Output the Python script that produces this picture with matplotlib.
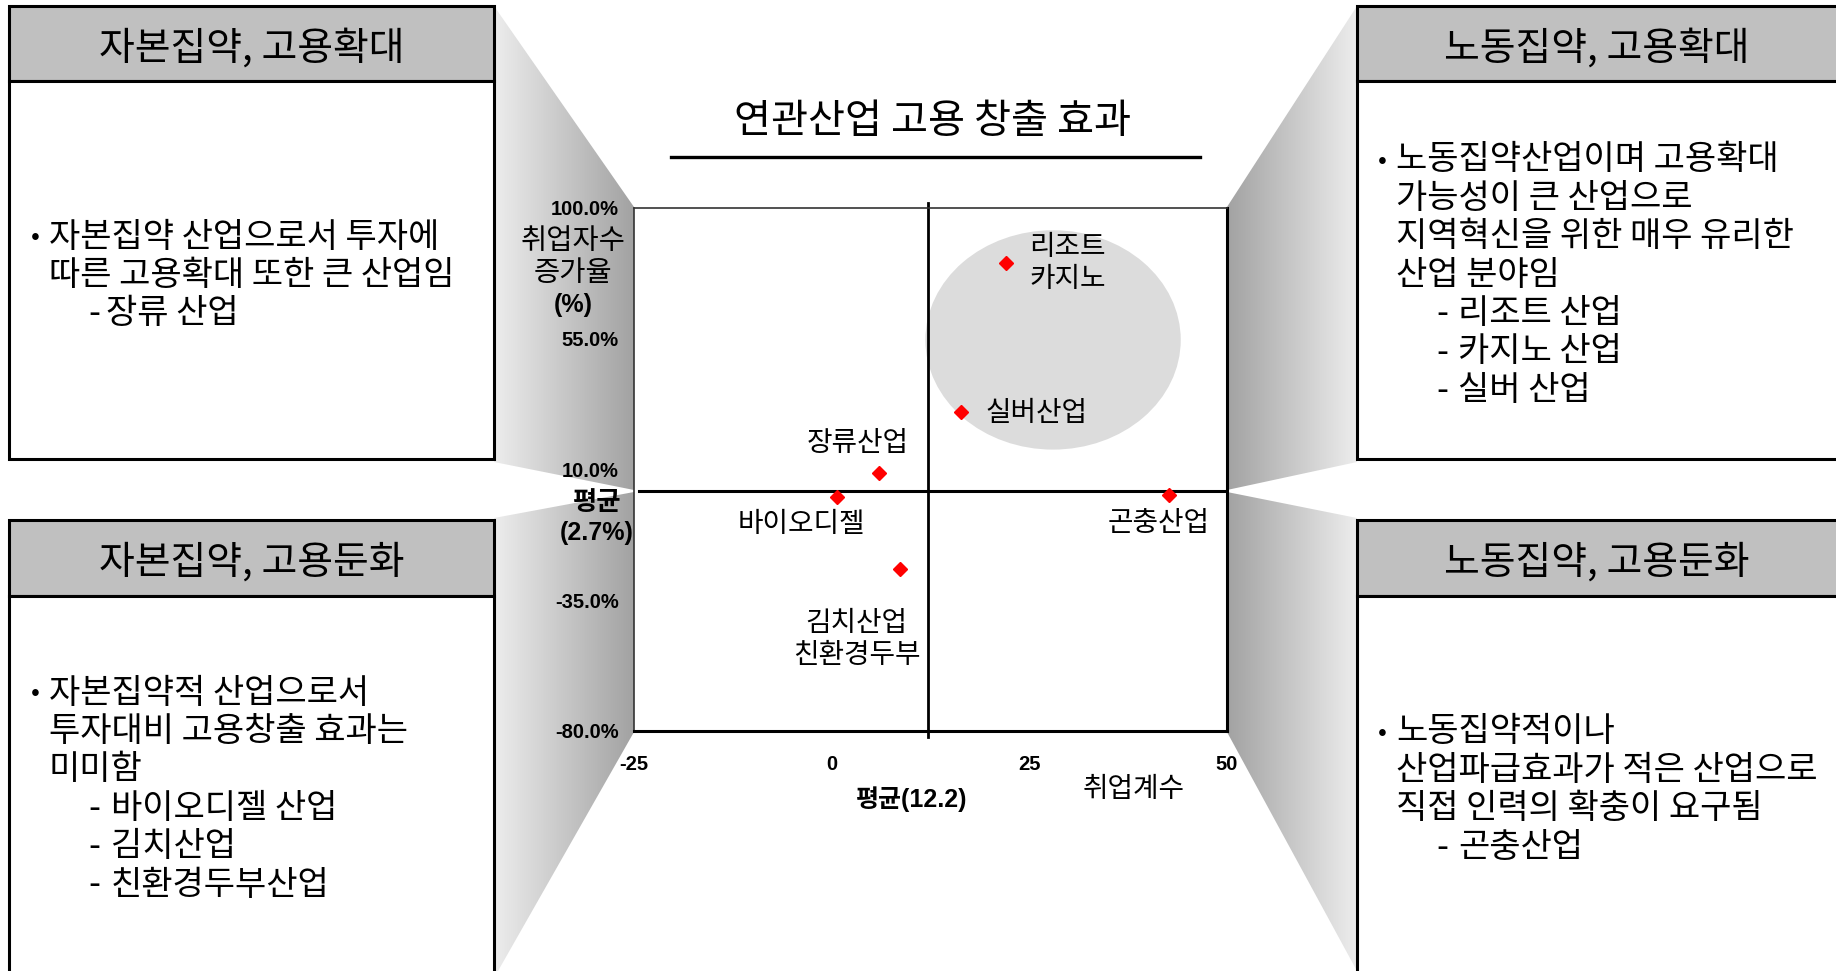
import numpy as np
import matplotlib
matplotlib.use('Agg')
import matplotlib.pyplot as plt
from matplotlib.patches import Rectangle, Polygon, Ellipse
from matplotlib.colors import LinearSegmentedColormap
from matplotlib.ticker import FuncFormatter

plt.rcParams['font.family'] = ['Noto Sans CJK KR', 'DejaVu Sans']
plt.rcParams['axes.unicode_minus'] = False
NUM = ['Liberation Sans', 'Noto Sans CJK KR']

# ---- data ----
industries = ['리조트\n카지노', '실버산업', '장류산업', '바이오디젤', '곤충산업', '김치산업\n친환경두부']
emp_coef = [22.0, 16.4, 6.0, 0.7, 42.7, 8.7]          # 취업계수
emp_growth = [81.1, 29.8, 8.8, 0.7, 1.2, -24.2]       # 취업자수 증가율(%)
mean_coef = 12.2
mean_growth = 2.7
x_ticks = [-25, 0, 25, 50]
y_ticks = [-80, -35, 10, 55, 100]

# label placement (offset in pixels, alignment)
label_offsets = [(24, 0), (24, -1), (-21, 30), (-36, -27), (-11, -28), (-44, -70)]
label_ha = ['left', 'left', 'center', 'center', 'center', 'center']

# highlight ellipse (center, width, height) in data units
hl_center = (28.0, 54.6)
hl_size = (32.3, 75.5)

box_titles = ['자본집약, 고용확대', '노동집약, 고용확대', '자본집약, 고용둔화', '노동집약, 고용둔화']
box_texts = [
    ['• 자본집약 산업으로서 투자에', '따른 고용확대 또한 큰 산업임', '- 장류 산업'],
    ['• 노동집약산업이며 고용확대', '가능성이 큰 산업으로', '지역혁신을 위한 매우 유리한', '산업 분야임',
     '- 리조트 산업', '- 카지노 산업', '- 실버 산업'],
    ['• 자본집약적 산업으로서', '투자대비 고용창출 효과는', '미미함',
     '- 바이오디젤 산업', '- 김치산업', '- 친환경두부산업'],
    ['• 노동집약적이나', '산업파급효과가 적은 산업으로', '직접 인력의 확충이 요구됨', '- 곤충산업'],
]

W, H = 1836, 971
fig = plt.figure(figsize=(W / 100, H / 100), dpi=100)
bg = fig.add_axes([0, 0, 1, 1])
bg.set_axis_off()

# ---- gradient funnels ----
cmap = LinearSegmentedColormap.from_list('fun', ['#ededed', '#a2a2a2'])

def funnel(verts, dark_right=True):
    poly = Polygon(verts, closed=True, facecolor='none', edgecolor='none')
    bg.add_patch(poly)
    xs = [v[0] for v in verts]
    ys = [v[1] for v in verts]
    g = np.linspace(0, 1, 256).reshape(1, -1)
    if not dark_right:
        g = g[:, ::-1]
    im = bg.imshow(g, cmap=cmap, extent=(min(xs), max(xs), max(ys), min(ys)),
                   aspect='auto', interpolation='bilinear', zorder=1)
    im.set_clip_path(poly)

funnel([(494, 6), (634, 207), (634, 490), (494, 462)])
funnel([(494, 518), (634, 492), (634, 732), (498, 971), (494, 971)])
funnel([(1227, 207), (1357, 6), (1357, 462), (1227, 490)], dark_right=False)
funnel([(1227, 492), (1357, 518), (1357, 971), (1227, 732)], dark_right=False)

# ---- quadrant boxes ----
box_geo = [  # x0, y0, x1, y1, header bottom
    (9, 6, 494, 459, 81),
    (1357, 6, 1845, 459, 81),
    (9, 520, 494, 990, 596),
    (1357, 520, 1845, 990, 596),
]
# bullet x, text x, dash x, sub-item text x
text_x = [(35, 49, 88, 106), (1382, 1396, 1436, 1458),
          (35, 49, 88, 111), (1382, 1396, 1436, 1458)]
text_y0 = [237, 160, 693, 732]
step = 38.4

for i in range(4):
    x0, y0, x1, y1, hb = box_geo[i]
    bg.add_patch(Rectangle((x0, y0), x1 - x0, hb - y0, facecolor='#c0c0c0',
                           edgecolor='black', lw=2.2, zorder=3))
    bg.add_patch(Rectangle((x0, hb), x1 - x0, y1 - hb, facecolor='white',
                           edgecolor='black', lw=2.2, zorder=3))
    cx = (x0 + min(x1, W)) / 2
    bg.text(cx, (y0 + hb) / 2 + 5, box_titles[i], ha='center', va='center',
            fontsize=28, zorder=4)
    bx, tx, dx, sx = text_x[i]
    for j, line in enumerate(box_texts[i]):
        y = text_y0[i] + j * step
        if line.startswith('•'):
            bg.text(bx, y, '•', ha='center', va='center', fontsize=19, zorder=4)
            bg.text(tx, y, line[2:], ha='left', va='center', fontsize=24.5, zorder=4)
        elif line.startswith('-'):
            bg.text(dx, y, '-', ha='left', va='center', fontsize=24.5, zorder=4)
            bg.text(sx, y, line[2:], ha='left', va='center', fontsize=24.5, zorder=4)
        else:
            bg.text(tx, y, line, ha='left', va='center', fontsize=24.5, zorder=4)

# ---- title ----
bg.text(933, 121, '연관산업 고용 창출 효과', ha='center', va='center', fontsize=29, zorder=4)
bg.plot([671, 1200], [157, 157], color='black', lw=2.4, zorder=4)

# ---- axis annotations ----
bg.text(573, 257, '취업자수\n증가율', ha='center', va='center', fontsize=20.5,
        linespacing=1.05, zorder=4)
bg.text(573, 305, '(%)', ha='center', va='center', fontsize=18, family=NUM,
        weight='bold', zorder=4)
bg.text(597, 503, '평균', ha='center', va='center', fontsize=19, weight='bold', zorder=4)
bg.text(597, 533, '(2.7%)', ha='center', va='center', fontsize=18, family=NUM,
        weight='bold', zorder=4)
bg.text(912, 799, '평균(12.2)', ha='center', va='center', fontsize=18, family=NUM,
        weight='bold', zorder=4)
bg.text(1134, 789, '취업계수', ha='center', va='center', fontsize=20, zorder=4)

bg.set_xlim(0, W)
bg.set_ylim(H, 0)

# ---- scatter plot ----
ax = fig.add_axes([634 / W, (H - 731) / H, 593 / W, 523 / H])
ax.set_facecolor('white')
ax.set_zorder(5)
ax.set_xlim(-25, 50)
ax.set_ylim(-80, 100)
ax.set_xticks(x_ticks)
ax.set_yticks(y_ticks)
ax.yaxis.set_major_formatter(FuncFormatter(lambda v, p: f'{v:.1f}%'))
ax.tick_params(length=0)
ax.tick_params(axis='y', pad=11)
ax.tick_params(axis='x', pad=17)
for lab in ax.get_xticklabels() + ax.get_yticklabels():
    lab.set_fontfamily(NUM)
    lab.set_fontweight('bold')
    lab.set_fontsize(14.5)
for s in ['left', 'top']:
    ax.spines[s].set_linewidth(1.2)
    ax.spines[s].set_color('#333333')
for s in ['right', 'bottom']:
    ax.spines[s].set_linewidth(2.2)
    ax.spines[s].set_color('black')

ax.add_patch(Ellipse(hl_center, hl_size[0], hl_size[1], facecolor='#dcdcdc',
                     edgecolor='none', zorder=0))
ax.axhline(mean_growth, xmin=0.008, xmax=0.995, color='black', lw=2.2, zorder=2)
ax.axvline(mean_coef, ymin=-0.012, ymax=1.01, color='black', lw=2.0, zorder=2,
           clip_on=False)
ax.plot(emp_coef, emp_growth, linestyle='none', marker='D', ms=7.2,
        color='#ff0000', zorder=3)
for name, x, y, off, ha in zip(industries, emp_coef, emp_growth, label_offsets, label_ha):
    ax.annotate(name, (x, y), xytext=off, textcoords='offset pixels', ha=ha,
                va='center', fontsize=20, linespacing=1.1, zorder=4)

fig.savefig('out.png', dpi=100)
